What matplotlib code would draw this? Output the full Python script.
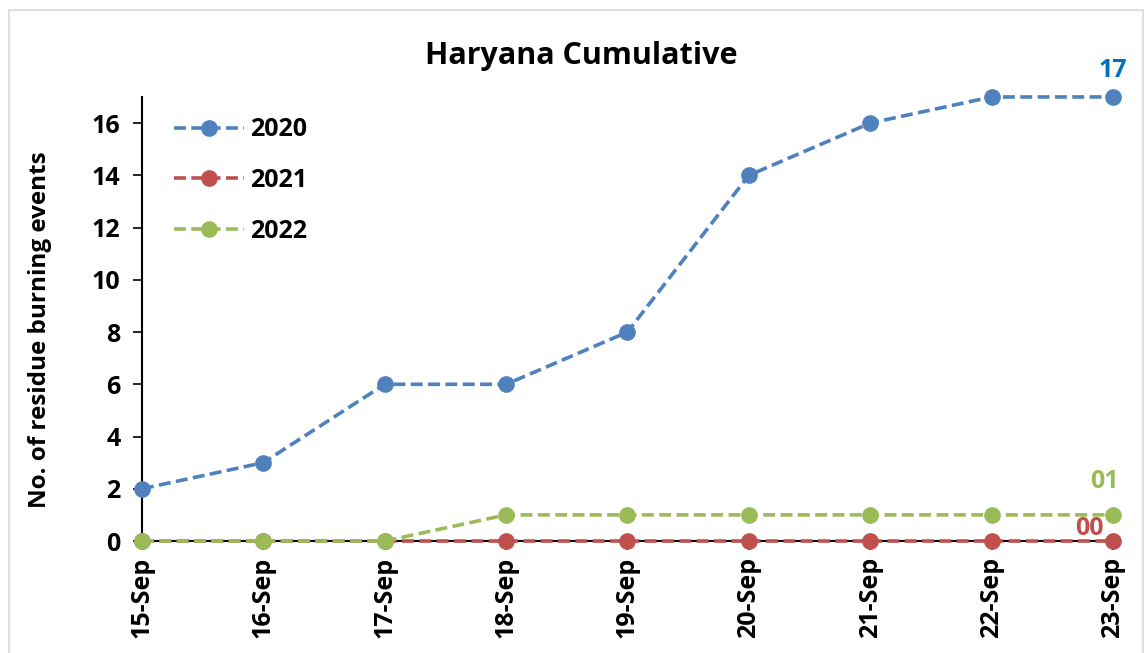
import matplotlib
matplotlib.use("Agg")
import matplotlib.pyplot as plt
from matplotlib.patches import Rectangle

plt.rcParams['font.family'] = ['Open Sans', 'DejaVu Sans']
plt.rcParams['font.weight'] = 'bold'

# Data
dates = ["15-Sep", "16-Sep", "17-Sep", "18-Sep", "19-Sep", "20-Sep", "21-Sep", "22-Sep", "23-Sep"]
y2020 = [2, 3, 6, 6, 8, 14, 16, 17, 17]
y2021 = [0, 0, 0, 0, 0, 0, 0, 0, 0]
y2022 = [0, 0, 0, 1, 1, 1, 1, 1, 1]
end_labels = ["17", "00", "01"]

colors = ["#4F81BD", "#C0504D", "#9BBB59"]
label_colors = ["#0070C0", "#C0504D", "#9BBB59"]

fig = plt.figure(figsize=(11.45, 6.53), dpi=100)
ax = fig.add_axes([0.124, 0.1715, 0.848, 0.68])

x = list(range(len(dates)))
series = [("2020", y2020), ("2021", y2021), ("2022", y2022)]
for (name, vals), c in zip(series, colors):
    ax.plot(x, vals, linestyle=(0, (3.3, 1.5)), linewidth=2.6, color=c,
            marker="o", markersize=11, label=name, clip_on=False, zorder=3)

# end labels
ax.annotate(end_labels[0], (x[-1], y2020[-1]), xytext=(0, 10), textcoords="offset points",
            ha="center", va="bottom", fontsize=18, fontweight="bold", color=label_colors[0])
ax.annotate(end_labels[1], (x[-1], y2021[-1]), xytext=(-17, 0), textcoords="offset points",
            ha="center", va="bottom", fontsize=18, fontweight="bold", color=label_colors[1])
ax.annotate(end_labels[2], (x[-1], y2022[-1]), xytext=(-6, 15), textcoords="offset points",
            ha="center", va="bottom", fontsize=18, fontweight="bold", color=label_colors[2])

ax.set_xlim(0, len(dates) - 1)
ax.set_ylim(0, 17)
ax.set_yticks(range(0, 17, 2))
ax.set_xticks(x)
ax.set_xticklabels(dates, rotation=90)
ax.tick_params(axis="both", labelsize=18, direction="out", length=6.5, width=1.2)
ax.tick_params(axis="y", pad=9)
ax.tick_params(axis="x", pad=5)
for lab in ax.get_xticklabels() + ax.get_yticklabels():
    lab.set_fontweight("bold")

for s in ["top", "right"]:
    ax.spines[s].set_visible(False)
for s in ["left", "bottom"]:
    ax.spines[s].set_linewidth(1.5)

ax.set_ylabel("No. of residue burning events", fontsize=17.5, fontweight="bold")
ax.yaxis.set_label_coords(-0.093, 0.475)
fig.text(0.508, 0.915, "Haryana Cumulative", ha="center", va="center", fontsize=22, fontweight="bold")

leg = ax.legend(loc="upper left", bbox_to_anchor=(0.01, 1.005), frameon=False,
                fontsize=18, handlelength=2.8, labelspacing=1.03, handletextpad=0.25)
for t in leg.get_texts():
    t.set_fontweight("bold")

fig.patches.append(Rectangle((0.008, -0.01), 0.99, 0.995, transform=fig.transFigure,
                             fill=False, edgecolor="#D9D9D9", linewidth=1.2))

fig.savefig("out.png", dpi=100)
